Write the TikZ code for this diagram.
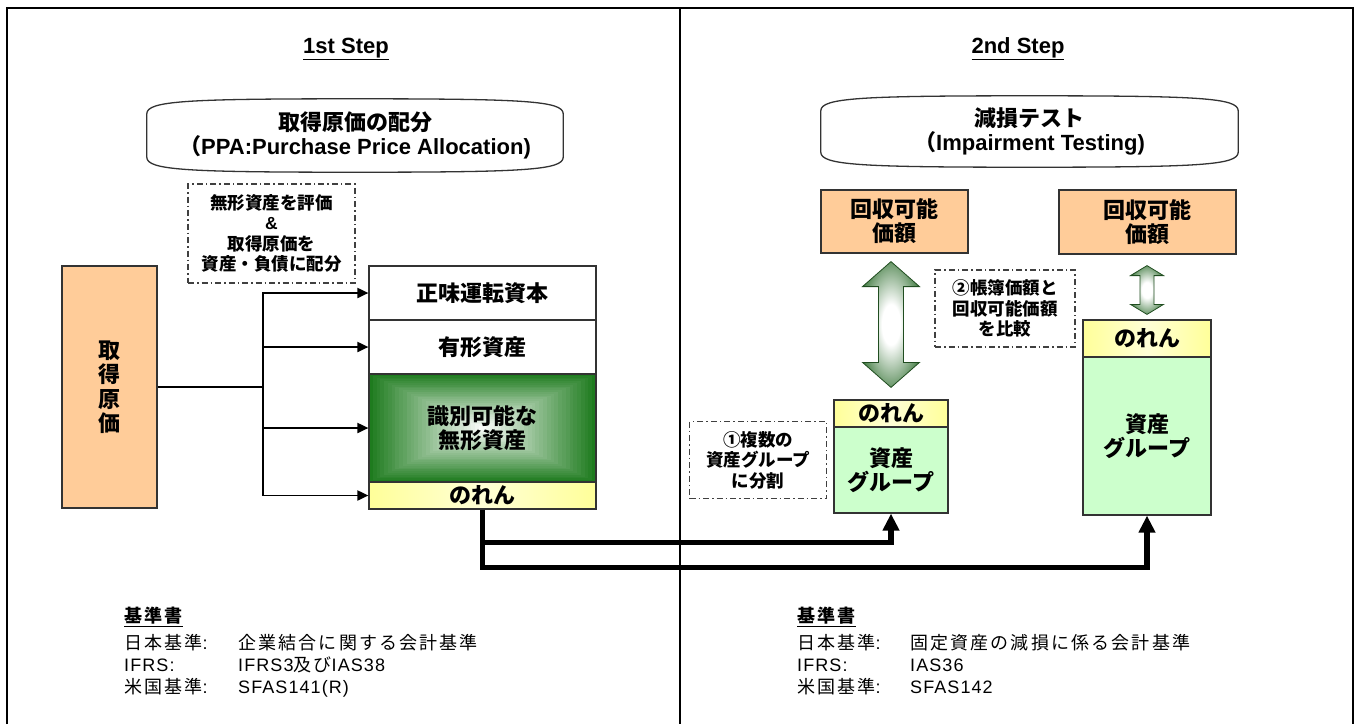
\documentclass[tikz,border=0pt]{standalone}
\usepackage{fontspec}
\usepackage{xcolor}
\usepackage{tikz}
\usetikzlibrary{calc}
\usetikzlibrary{arrows.meta}
\usetikzlibrary{backgrounds}
\setmainfont{Liberation Sans}
\newfontfamily\jp{Noto Sans CJK JP}
\newfontfamily\lat{Liberation Sans}
\newfontfamily\jpsp[LetterSpace=12]{Noto Sans CJK JP}
\newfontfamily\latsp[LetterSpace=6]{Liberation Sans}

\definecolor{peach}{HTML}{FFCC99}
\definecolor{lgreen}{HTML}{CCFFCC}
\definecolor{nyellow}{HTML}{FFFF99}
\definecolor{gdark}{HTML}{1E7B1E}
\definecolor{adark}{HTML}{2E6E2E}
\definecolor{boxgray}{HTML}{333333}
\definecolor{notegray}{HTML}{404040}

\newcommand{\boxfont}{\jp\bfseries\fontsize{22}{24}\selectfont}
\newcommand{\notefont}{\jp\bfseries\fontsize{17.5}{20.5}\selectfont}
\newcommand{\reffont}{\jpsp\fontsize{18}{22}\selectfont}

\pgfdeclareradialshading{glow}{\pgfpoint{0bp}{0bp}}{color(0bp)=(white); color(8bp)=(white); color(21bp)=(adark!55!white); color(31bp)=(adark); color(50bp)=(adark)}

\tikzset{>=latex}
\tikzstyle{frame} = [line width=2.2pt]
\tikzstyle{steptitle} = [inner sep=0, font=\bfseries\fontsize{22}{24}\selectfont]
\tikzstyle{box} = [draw=boxgray, line width=1.2pt, inner sep=0pt, align=center, font=\boxfont]
\tikzstyle{costbox} = [box, fill=peach]
\tikzstyle{assetbox} = [box, fill=white, minimum width=227pt]
\tikzstyle{gwbox} = [box, left color=nyellow, right color=nyellow, middle color=white!60!nyellow]
\tikzstyle{groupbox} = [box, fill=lgreen]
\tikzstyle{titlebox} = [inner sep=0pt, align=center, font=\boxfont]
\tikzstyle{note} = [draw=notegray, line width=1.1pt, dash pattern=on 6pt off 3pt on 1.5pt off 3pt, inner sep=0pt, align=center, font=\notefont]
\tikzstyle{link} = [line width=1.9pt, -{Triangle[length=11pt,width=10pt]}]
\tikzstyle{biglink} = [line width=5.5pt, -{Triangle[length=17pt,width=16pt]}]
\tikzstyle{reftext} = [inner sep=0pt, anchor=north west, font=\reffont]

% outline with bowed top and bottom round a named node
\newcommand{\bowbox}[1]{%
  \draw[draw=boxgray, line width=1.3pt] ($(#1.north west)+(0,15)$)
    .. controls ($(#1.north west)+(0,2)$) and ($(#1.north west)+(40,0)$) .. (#1.north)
    .. controls ($(#1.north east)+(-40,0)$) and ($(#1.north east)+(0,2)$) .. ($(#1.north east)+(0,15)$)
    -- ($(#1.south east)+(0,-15)$)
    .. controls ($(#1.south east)+(0,-2)$) and ($(#1.south east)+(-40,0)$) .. (#1.south)
    .. controls ($(#1.south west)+(40,0)$) and ($(#1.south west)+(0,-2)$) .. ($(#1.south west)+(0,-15)$)
    -- cycle;}
% double arrow between two tips: half head, half shaft, head length
\newcommand{\dblarrow}[5]{%
  \shadedraw[shading=glow, draw=adark!70!black, line width=0.8pt] (#1) -- ($(#1)+(#3,#5)$) -- ($(#1)+(#4,#5)$)
    -- ($(#2)+(#4,-#5)$) -- ($(#2)+(#3,-#5)$) -- (#2) -- ($(#2)+(-#3,-#5)$) -- ($(#2)+(-#4,-#5)$)
    -- ($(#1)+(-#4,#5)$) -- ($(#1)+(-#3,#5)$) -- cycle;}

\begin{document}
\begin{tikzpicture}[x=1pt,y=-1pt]
\useasboundingbox (0,0) rectangle (1355,724);
\draw[frame] (7,724) -- (7,8) -- (1353,8) -- (1353,724);
\draw[frame] (680,8) -- (680,724);

% 1st step
\node[steptitle] (s1) at (346,49) {\underline{1st Step}};
\node[titlebox, minimum width=416pt, minimum height=73pt] (ppa) at (355,135.5) {取得原価の配分\\（{\lat PPA:Purchase Price Allocation)}};
\bowbox{ppa}
\node[note, minimum width=167pt, minimum height=99pt] (n1) at (271.5,233.5) {無形資産を評価\\{\lat \&}\\取得原価を\\資産・負債に配分};
\node[costbox, minimum width=95pt, minimum height=242pt, font=\boxfont\fontsize{22}{24.5}\selectfont] (cost) at (109.5,387) {取\\得\\原\\価};
\node[assetbox, minimum height=54pt] (nwc) at (482.5,293) {正味運転資本};
\node[assetbox, minimum height=54pt] (tang) at (482.5,347) {有形資産};
\node[assetbox, fill=none, minimum height=108pt] (ia) at (482.5,428) {識別可能な\\無形資産};
\node[gwbox, minimum width=227pt, minimum height=27pt] (gw1) at (482.5,495.5) {のれん};
\begin{scope}[on background layer]
\foreach \i [evaluate=\i as \f using 1-\i/30, evaluate=\i as \p using int(100-\i*100/30)] in {0,...,29}
  \fill[gdark!\p!white] ($(ia.center)+(-113.5*\f,-54*\f)$) rectangle ($(ia.center)+(113.5*\f,54*\f)$);
\end{scope}
\draw[line width=1.9pt] (cost.east) -- ++(105,0) coordinate (bus);
\foreach \t in {nwc,tang,ia,gw1}
  \draw[link] (bus) |- (\t.west);

% 2nd step
\node[steptitle] (s2) at (1018,49) {\underline{2nd Step}};
\node[titlebox, minimum width=417pt, minimum height=71pt] (imp) at (1029.5,131.5) {減損テスト\\（{\lat Impairment Testing)}};
\bowbox{imp}
\node[costbox, minimum width=147pt, minimum height=63pt] (rv1) at (894.5,221.5) {回収可能\\価額};
\node[costbox, minimum width=177pt, minimum height=64pt] (rv2) at (1147.5,222) {回収可能\\価額};
\node[gwbox, minimum width=114pt, minimum height=27pt] (gw2) at (891,413.5) {のれん};
\node[groupbox, minimum width=114pt, minimum height=86pt] (ag1) at (891,470) {資産\\グループ};
\node[gwbox, minimum width=128pt, minimum height=37pt] (gw3) at (1147,338.5) {のれん};
\node[groupbox, minimum width=128pt, minimum height=158pt] (ag2) at (1147,436) {資産\\グループ};
\node[note, minimum width=140pt, minimum height=77pt] (n2) at (1005,308.5) {②帳簿価額と\\回収可能価額\\を比較};
\node[note, minimum width=137pt, minimum height=77pt] (n3) at (758,460) {①複数の\\資産グループ\\に分割};

\path ($(gw2.north |- rv1.south)+(0,8)$) coordinate (a1t) ($(gw2.north)+(0,-12)$) coordinate (a1b);
\path ($(gw3.north |- rv2.south)+(0,11)$) coordinate (a2t) ($(gw3.north)+(0,-5)$) coordinate (a2b);
\dblarrow{a1t}{a1b}{28.5}{12.5}{25}
\dblarrow{a2t}{a2b}{16.5}{7}{10}

\draw[biglink] (gw1.south) -- ++(0,58) -| (ag2.south);
\draw[biglink] ($(gw1.south)+(0,33)$) -| (ag1.south);

% standards
\node[reftext] (std1) at (124,607) {%
\begin{tabular}{@{}p{114pt}@{}l@{}}
\multicolumn{2}{@{}l@{}}{\bfseries\underline{基準書}}\\[5pt]
日本基準{\latsp :} & 企業結合に関する会計基準\\
{\latsp IFRS:} & {\latsp IFRS3}及び{\latsp IAS38}\\
米国基準{\latsp :} & {\latsp SFAS141(R)}
\end{tabular}};
\node[reftext] (std2) at (797,607) {%
\begin{tabular}{@{}p{113pt}@{}l@{}}
\multicolumn{2}{@{}l@{}}{\bfseries\underline{基準書}}\\[5pt]
日本基準{\latsp :} & 固定資産の減損に係る会計基準\\
{\latsp IFRS:} & {\latsp IAS36}\\
米国基準{\latsp :} & {\latsp SFAS142}
\end{tabular}};
\end{tikzpicture}
\end{document}
